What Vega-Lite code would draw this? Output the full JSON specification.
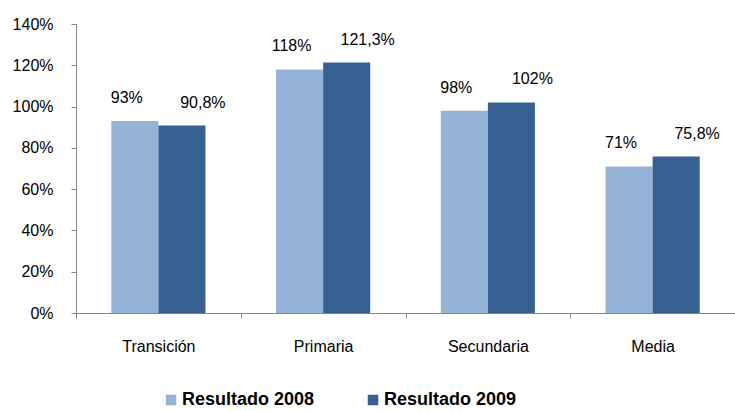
{
  "$schema": "https://vega.github.io/schema/vega-lite/v6.json",
  "width": 659,
  "height": 289,
  "autosize": {"type": "none"},
  "padding": {"left": 76, "top": 24, "right": 0, "bottom": 98},
  "background": "white",
  "config": {
    "view": {"stroke": null},
    "font": "Liberation Sans",
    "axis": {"grid": false, "domainColor": "#868686", "tickColor": "#868686", "labelColor": "#000000", "labelFont": "Liberation Sans", "labelFontSize": 16, "tickSize": 5, "domainWidth": 1, "tickWidth": 1}
  },
  "data": {
    "values": [
      {"nivel": "Transición", "serie": "Resultado 2008", "valor": 93, "etiqueta": "93%"},
      {"nivel": "Transición", "serie": "Resultado 2009", "valor": 90.8, "etiqueta": "90,8%"},
      {"nivel": "Primaria", "serie": "Resultado 2008", "valor": 118, "etiqueta": "118%"},
      {"nivel": "Primaria", "serie": "Resultado 2009", "valor": 121.3, "etiqueta": "121,3%"},
      {"nivel": "Secundaria", "serie": "Resultado 2008", "valor": 98, "etiqueta": "98%"},
      {"nivel": "Secundaria", "serie": "Resultado 2009", "valor": 102, "etiqueta": "102%"},
      {"nivel": "Media", "serie": "Resultado 2008", "valor": 71, "etiqueta": "71%"},
      {"nivel": "Media", "serie": "Resultado 2009", "valor": 75.8, "etiqueta": "75,8%"}
    ]
  },
  "encoding": {
    "x": {
      "field": "nivel", "type": "nominal",
      "sort": ["Transición", "Primaria", "Secundaria", "Media"],
      "scale": {"paddingInner": 0, "paddingOuter": 0},
      "axis": {"title": null, "labelAngle": 0, "tickBand": "extent", "labelPadding": 20}
    },
    "xOffset": {
      "field": "serie", "type": "nominal",
      "scale": {"paddingInner": 0, "paddingOuter": 0.75}
    },
    "y": {
      "field": "valor", "type": "quantitative",
      "scale": {"domain": [0, 140], "nice": false},
      "axis": {"title": null, "values": [0, 20, 40, 60, 80, 100, 120, 140], "labelExpr": "datum.value + '%'", "labelPadding": 18}
    }
  },
  "layer": [
    {
      "mark": {"type": "bar"},
      "encoding": {
        "color": {
          "field": "serie", "type": "nominal",
          "scale": {"domain": ["Resultado 2008", "Resultado 2009"], "range": ["#95B3D7", "#366092"]},
          "legend": {
            "title": null, "orient": "none", "direction": "horizontal",
            "legendX": 86, "legendY": 367, "padding": 0,
            "symbolType": "square", "symbolSize": 110, "symbolStrokeWidth": 0,
            "labelFont": "Liberation Sans", "labelFontSize": 18, "labelFontWeight": "bold", "labelColor": "#000000",
            "labelOffset": 2, "columnPadding": 49, "labelLimit": 300
          }
        }
      }
    },
    {
      "transform": [{"filter": "datum.serie === 'Resultado 2008'"}],
      "mark": {"type": "text", "fontSize": 16, "color": "#000000", "baseline": "alphabetic", "dy": -18, "dx": -8},
      "encoding": {"text": {"field": "etiqueta"}}
    },
    {
      "transform": [{"filter": "datum.serie === 'Resultado 2009'"}],
      "mark": {"type": "text", "fontSize": 16, "color": "#000000", "baseline": "alphabetic", "dy": -18, "dx": 21},
      "encoding": {"text": {"field": "etiqueta"}}
    }
  ]
}
